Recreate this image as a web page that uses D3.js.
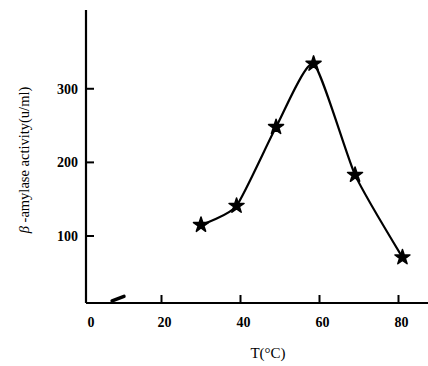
<!DOCTYPE html>
<html>
<head>
<meta charset="utf-8">
<script src="https://cdn.jsdelivr.net/npm/d3@7"></script>
<style>
  body { margin: 0; background: #fff; }
  svg { display: block; }
</style>
</head>
<body>
<div id="chart"></div>
<script>
// data
const temps = [30, 39, 49, 58.5, 69, 81];
const activity = [115, 141, 248, 334, 183, 71];
const xTicks = [0, 20, 40, 60, 80];
const yTicks = [100, 200, 300];
const strayMark = [[7.5, 12], [10.5, 18]];

const W = 428, H = 366;
const svg = d3.select('#chart').append('svg')
  .attr('width', W)
  .attr('height', H);

const x = d3.scaleLinear().domain([0, 90]).range([82.5, 438]);
const y = d3.scaleLinear().domain([9, 407]).range([303, 10]);
const axisX = 86, axisY = 303;
const font = '"Liberation Serif", "DejaVu Serif", serif';

// axes lines
svg.append('line')
  .attr('x1', axisX).attr('x2', axisX)
  .attr('y1', 10).attr('y2', axisY)
  .attr('stroke', '#000').attr('stroke-width', 2.2);
svg.append('line')
  .attr('x1', axisX).attr('x2', W)
  .attr('y1', axisY).attr('y2', axisY)
  .attr('stroke', '#000').attr('stroke-width', 2.2);

// x ticks (inward) and labels
svg.selectAll('.xtick')
  .data(xTicks.filter(d => d > 0))
  .enter().append('line')
  .attr('x1', d => x(d)).attr('x2', d => x(d))
  .attr('y1', axisY).attr('y2', axisY - 8)
  .attr('stroke', '#000').attr('stroke-width', 2);

svg.selectAll('.xlabel')
  .data(xTicks)
  .enter().append('text')
  .attr('x', d => d === 0 ? 91 : x(d) + 3)
  .attr('y', 327)
  .attr('text-anchor', 'middle')
  .style('font-family', font)
  .style('font-size', '14px')
  .style('font-weight', 'bold')
  .text(d => d);

// y ticks (inward) and labels
svg.selectAll('.ytick')
  .data(yTicks)
  .enter().append('line')
  .attr('x1', axisX).attr('x2', axisX + 8)
  .attr('y1', d => y(d)).attr('y2', d => y(d))
  .attr('stroke', '#000').attr('stroke-width', 2);

svg.selectAll('.ylabel')
  .data(yTicks)
  .enter().append('text')
  .attr('x', 78)
  .attr('y', d => y(d) + 5)
  .attr('text-anchor', 'end')
  .style('font-family', font)
  .style('font-size', '14px')
  .style('font-weight', 'bold')
  .text(d => d);

// axis titles
svg.append('text')
  .attr('x', 268)
  .attr('y', 358)
  .attr('text-anchor', 'middle')
  .style('font-family', font)
  .style('font-size', '15px')
  .text('T(°C)');

svg.append('text')
  .attr('transform', 'translate(29,160) rotate(-90)')
  .attr('text-anchor', 'middle')
  .style('font-family', font)
  .style('font-size', '14.5px')
  .html('<tspan font-style="italic">β</tspan> -amylase activity(u/ml)');

// stray short stroke near origin
svg.append('path')
  .datum(strayMark)
  .attr('d', d3.line().x(d => x(d[0])).y(d => y(d[1])))
  .attr('stroke', '#000').attr('stroke-width', 3.5)
  .attr('stroke-linecap', 'round').attr('fill', 'none');

// curve
const pts = temps.map((t, i) => [t, activity[i]]);
svg.append('path')
  .datum(pts)
  .attr('d', d3.line().x(d => x(d[0])).y(d => y(d[1])).curve(d3.curveCardinal.tension(0.45)))
  .attr('fill', 'none')
  .attr('stroke', '#000')
  .attr('stroke-width', 2.2);

// star markers
svg.selectAll('.marker')
  .data(pts)
  .enter().append('path')
  .attr('transform', d => `translate(${x(d[0])},${y(d[1])})`)
  .attr('d', d3.symbol().type(d3.symbolStar).size(70))
  .attr('fill', '#000')
  .attr('stroke', '#000')
  .attr('stroke-width', 1.5)
  .attr('stroke-linejoin', 'round');
</script>
</body>
</html>
